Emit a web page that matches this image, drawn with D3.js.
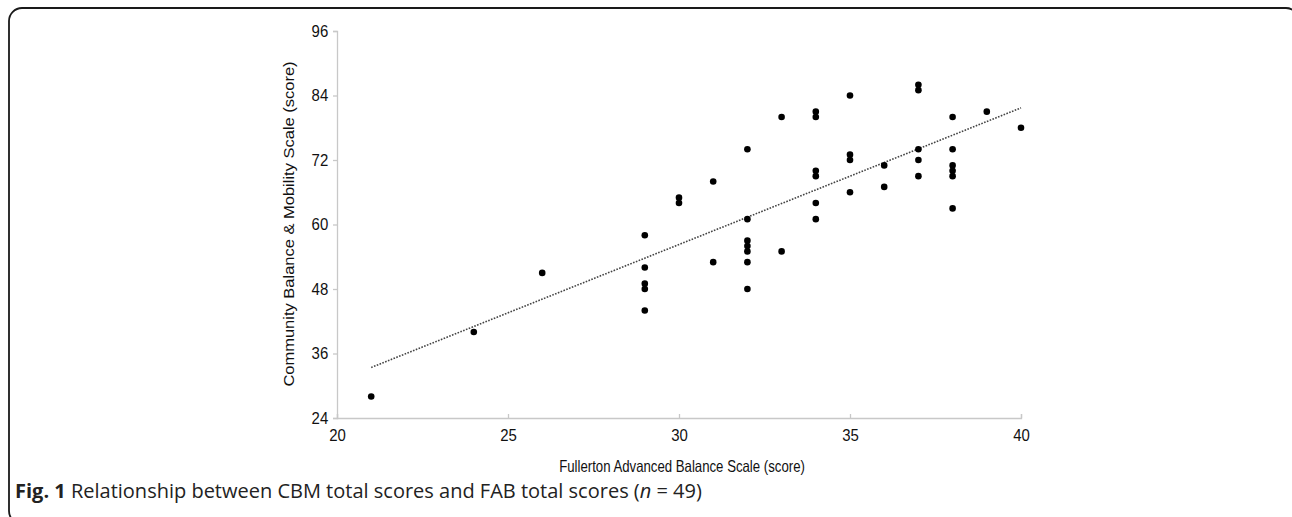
<!DOCTYPE html>
<html>
<head>
<meta charset="utf-8">
<script src="https://cdn.jsdelivr.net/npm/d3@7"></script>
<style>
body { margin: 0; background: #fff; }
</style>
</head>
<body>
<div id="chart"></div>
<script>
// FAB score (x) and CBM score (y) per participant
var fab = [21, 24, 26,
    29, 29, 29, 29, 29,
    30, 30,
    31, 31,
    32, 32, 32, 32, 32, 32, 32,
    33, 33,
    34, 34, 34, 34, 34, 34,
    35, 35, 35, 35,
    36, 36,
    37, 37, 37, 37, 37,
    38, 38, 38, 38, 38, 38,
    39, 40];
var cbm = [28, 40, 51,
    58, 52, 49, 48, 44,
    65, 64,
    68, 53,
    74, 61, 57, 56, 55, 53, 48,
    80, 55,
    81, 80, 70, 69, 64, 61,
    84, 73, 72, 66,
    71, 67,
    86, 85, 74, 72, 69,
    80, 74, 71, 70, 69, 63,
    81, 78];
// linear trend line end points
var trendX = [21, 40];
var trendY = [33.4, 81.7];
var xTicks = [20, 25, 30, 35, 40];
var yTicks = [24, 36, 48, 60, 72, 84, 96];

var W = 1292, H = 517;
var svg = d3.select("#chart").append("svg").attr("width", W).attr("height", H);

// rounded frame
svg.append("rect").attr("x", 9).attr("y", 8).attr("width", 1290).attr("height", 516)
    .attr("rx", 13).attr("fill", "none").attr("stroke", "#1a1a1a").attr("stroke-width", 1.8);

var x = d3.scaleLinear().domain([20, 40]).range([337, 1021]);
var y = d3.scaleLinear().domain([24, 96]).range([418, 31]);

var axisColor = "#c8c8c8";
var sans = "'Liberation Sans', Arial, sans-serif";

var gx = svg.append("g").attr("transform", "translate(0,418)")
    .call(d3.axisBottom(x).tickValues(xTicks).tickSize(-4).tickPadding(9).tickFormat(d3.format("d")));
var gy = svg.append("g").attr("transform", "translate(337,0)")
    .call(d3.axisLeft(y).tickValues(yTicks).tickSize(4).tickPadding(6).tickFormat(d3.format("d")));

[gx, gy].forEach(function(g) {
    g.select(".domain").attr("stroke", axisColor).attr("stroke-width", 1.3);
    g.selectAll(".tick line").attr("stroke", axisColor).attr("stroke-width", 1.3);
    g.selectAll(".tick text").attr("fill", "#111").style("font", "17px " + sans)
        .attr("transform", "scale(0.88,1)");
});
gx.selectAll(".tick text").attr("dy", "0.8em");

// trend line
var pts = trendX.map(function(d, i) { return [d, trendY[i]]; });
svg.append("path").datum(pts)
    .attr("d", d3.line().x(d => x(d[0])).y(d => y(d[1])))
    .attr("fill", "none").attr("stroke", "#444").attr("stroke-width", 1.6)
    .attr("stroke-dasharray", "1.6,1.4");

// points
svg.selectAll(".dot").data(fab).enter().append("circle").attr("class", "dot")
    .attr("cx", d => x(d)).attr("cy", (d, i) => y(cbm[i])).attr("r", 3.3).attr("fill", "#000");

// axis titles (the source figure is squeezed horizontally)
svg.append("text").attr("transform", "translate(682,472) scale(0.8,1)").attr("text-anchor", "middle")
    .style("font", "16.5px " + sans).attr("fill", "#111")
    .text("Fullerton Advanced Balance Scale (score)");
svg.append("text").attr("transform", "translate(294,224) scale(0.85,1) rotate(-90)").attr("text-anchor", "middle")
    .style("font", "16.5px " + sans).attr("fill", "#111")
    .text("Community Balance & Mobility Scale (score)");

// caption
var cap = svg.append("text").attr("x", 15).attr("y", 498)
    .style("font", "20px 'Open Sans', 'Noto Sans', sans-serif").attr("fill", "#222");
cap.append("tspan").attr("font-weight", "bold").text("Fig. 1");
cap.append("tspan").text(" Relationship between CBM total scores and FAB total scores (");
cap.append("tspan").attr("font-style", "italic").text("n");
cap.append("tspan").text(" = 49)");
</script>
</body>
</html>
